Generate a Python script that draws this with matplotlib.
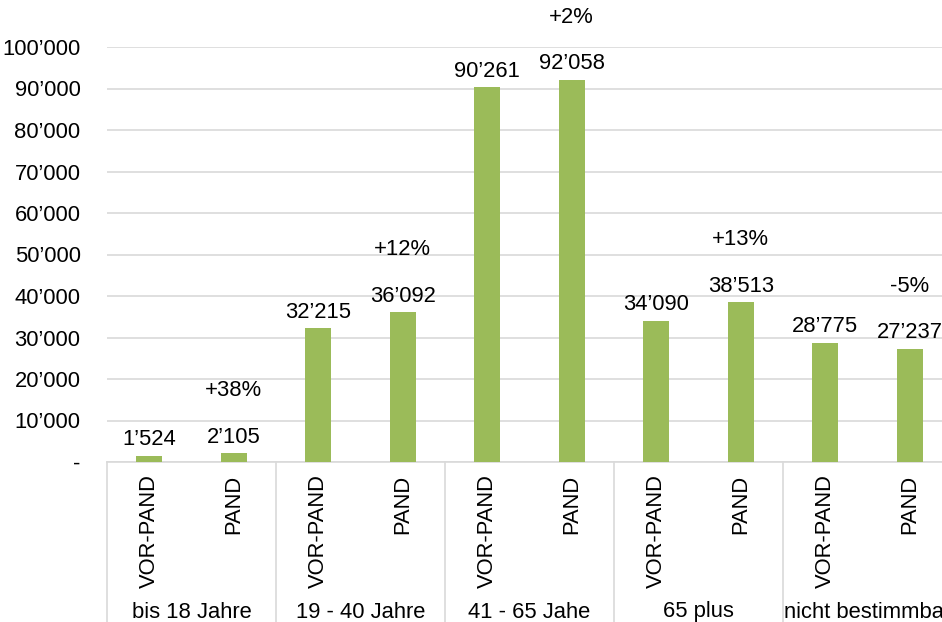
import matplotlib
matplotlib.use("Agg")
import matplotlib.pyplot as plt
from matplotlib.ticker import FuncFormatter
import matplotlib.transforms as mtransforms

plt.rcParams['font.family'] = ['Liberation Sans', 'DejaVu Sans']

groups = ["bis 18 Jahre", "19 - 40 Jahre", "41 - 65 Jahe", "65 plus", "nicht bestimmbar"]
periods = ["VOR-PAND", "PAND"]
values = [1524, 2105, 32215, 36092, 90261, 92058, 34090, 38513, 28775, 27237]
changes = ["+38%", "+12%", "+2%", "+13%", "-5%"]

W, H = 942, 622
fig = plt.figure(figsize=(W / 100, H / 100), dpi=100)
ax = fig.add_axes([107 / W, 160 / H, 845 / W, 415 / H])

green = "#9BBB59"
grid = "#D9D9D9"
fs = 15.8

x = list(range(len(values)))
ax.bar(x, values, width=0.31, color=green, zorder=3)
ax.set_xlim(-0.5, len(values) - 0.5)
ax.set_ylim(0, 100000)
ax.set_yticks(range(0, 100001, 10000))

def fmt(v, pos):
    if v == 0:
        return "-"
    s = f"{int(v):,}".replace(",", "\u2019")
    return s
ax.yaxis.set_major_formatter(FuncFormatter(fmt))
ax.yaxis.grid(True, color=grid, linewidth=1.2, zorder=0)
for s in ["top", "right", "left"]:
    ax.spines[s].set_visible(False)
ax.spines["bottom"].set_color(grid)
ax.spines["bottom"].set_linewidth(1.2)
ax.tick_params(axis="y", length=0, pad=19, labelsize=fs)
ax.tick_params(axis="x", length=0, pad=9, labelsize=fs)

ax.set_xticks(x)
ax.set_xticklabels([periods[i % 2] for i in x], rotation=90, va="top", ha="center")

for xi, v in zip(x, values):
    ax.annotate(fmt(v, None), (xi, v), xytext=(0, 4), textcoords="offset points",
                ha="center", va="bottom", fontsize=fs)

for gi, ch in enumerate(changes):
    xi = 2 * gi + 1
    ax.annotate(ch, (xi, values[xi]), xytext=(0, 45), textcoords="offset points",
                ha="center", va="center", fontsize=fs)

trans = mtransforms.blended_transform_factory(ax.transData, ax.transAxes)
ext = -160 / 415
for b in range(len(groups) + 1):
    xb = 2 * b - 0.5
    ax.plot([xb, xb], [0, ext], transform=trans, color=grid, linewidth=1.2, clip_on=False)

for gi, g in enumerate(groups):
    ax.text(2 * gi + 0.5, -150 / 415, g, transform=trans, ha="center", va="center", fontsize=fs)

fig.savefig("out.png", dpi=100)
